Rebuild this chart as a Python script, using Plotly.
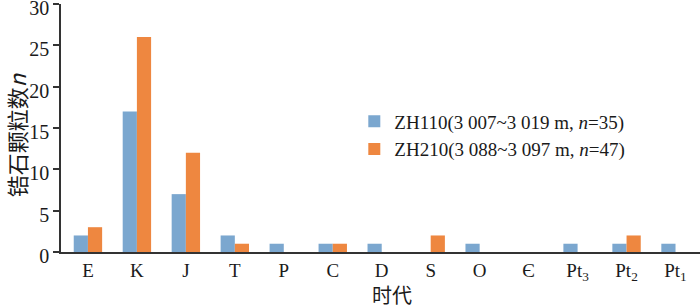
import plotly.graph_objects as go

categories = ["E", "K", "J", "T", "P", "C", "D", "S", "O", "Є",
              "Pt<sub>3</sub>", "Pt<sub>2</sub>", "Pt<sub>1</sub>"]
zh110 = [2, 17, 7, 2, 1, 1, 1, 0, 1, 0, 1, 1, 1]
zh210 = [3, 26, 12, 1, 0, 1, 0, 2, 0, 0, 0, 2, 0]
y_ticks = [0, 5, 10, 15, 20, 25, 30]
name1 = "ZH110(3 007~3 019 m, <i>n</i>=35)"
name2 = "ZH210(3 088~3 097 m, <i>n</i>=47)"

serif = "Liberation Serif, Times New Roman, Noto Sans CJK SC, serif"
fig = go.Figure()
fig.add_trace(go.Bar(x=categories, y=zh110, name=name1, marker_color="#7BA7CF",
                     marker_line_width=0))
fig.add_trace(go.Bar(x=categories, y=zh210, name=name2, marker_color="#EE8740",
                     marker_line_width=0))

fig.update_layout(
    width=700, height=307,
    margin=dict(l=61, r=0, t=4, b=55, autoexpand=False),
    paper_bgcolor="white", plot_bgcolor="white",
    barmode="group", bargap=0.42, bargroupgap=0,
    font=dict(family=serif, color="#1a1a1a", size=18),
    showlegend=True,
    legend=dict(x=0.459, y=0.47, xanchor="left", yanchor="middle",
                font=dict(size=19, family=serif, color="#1a1a1a"),
                bgcolor="rgba(0,0,0,0)", tracegroupgap=0, itemwidth=30),
    xaxis=dict(range=[-0.55, 12.5], showline=True, linecolor="#333", linewidth=1.5,
               ticks="", tickfont=dict(size=19), automargin=False, showgrid=False),
    yaxis=dict(range=[0, 30], tickvals=y_ticks, showline=True, linecolor="#333",
               linewidth=1.5, ticks="outside", ticklen=6, tickcolor="#333",
               tickwidth=1.5, tickfont=dict(size=20), showgrid=False, zeroline=False,
               automargin=False, ticklabeloverflow="allow", ticklabelshift=4),
    annotations=[
        dict(text="时代", xref="paper", yref="paper", x=0.518, y=-0.172,
             xanchor="center", yanchor="middle", showarrow=False,
             font=dict(size=20, family="Noto Sans CJK SC", color="#1a1a1a")),
        dict(text="锆石颗粒数<i>n</i>", xref="paper", yref="paper", x=-0.07, y=0.472,
             xanchor="center", yanchor="middle", textangle=-90, showarrow=False,
             font=dict(size=22, family="Noto Sans CJK SC", color="#1a1a1a")),
    ],
)
fig.write_html("out.html", config={"displayModeBar": False},
               post_script="document.body.style.margin='0';")
